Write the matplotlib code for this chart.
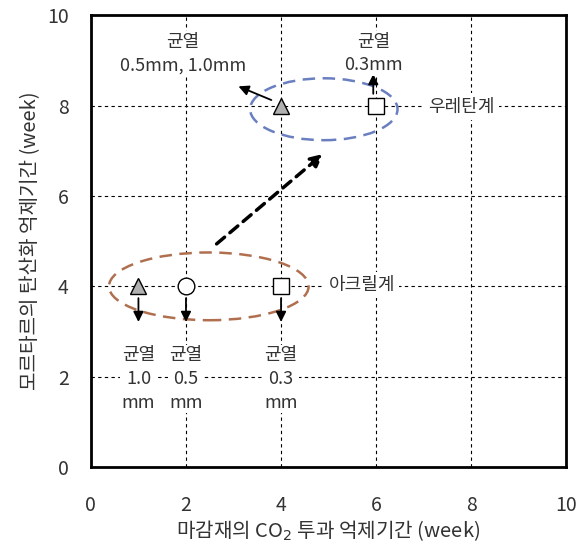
import matplotlib.pyplot as plt
from matplotlib.patches import Ellipse

plt.rcParams['font.family'] = ['Noto Sans CJK KR', 'DejaVu Sans']

# 아크릴계 (아래) / 우레탄계 (위)
acryl_x = [1, 2, 4]
acryl_y = [4, 4, 4]
acryl_marker = ['^', 'o', 's']
acryl_fill = ['#b0b0b0', 'white', 'white']
acryl_label = ['균열\n1.0\nmm', '균열\n0.5\nmm', '균열\n0.3\nmm']

ure_x = [4, 6]
ure_y = [8, 8]
ure_marker = ['^', 's']
ure_fill = ['#b0b0b0', 'white']

fig = plt.figure(figsize=(5.79, 5.45), dpi=100)
ax = fig.add_axes([0.157, 0.143, 0.821, 0.829])

ax.set_xlim(0, 10)
ax.set_ylim(0, 10)
ax.set_xticks([0, 2, 4, 6, 8, 10])
ax.set_yticks([0, 2, 4, 6, 8, 10])
ax.tick_params(length=0, labelsize=14, colors='#333333')
ax.tick_params(axis='x', pad=20)
ax.tick_params(axis='y', pad=16)
ax.grid(True, color='black', linestyle=(0, (3, 3)), linewidth=0.8)
for s in ax.spines.values():
    s.set_linewidth(2)

ax.set_xlabel('마감재의 CO$_2$ 투과 억제기간 (week)', fontsize=14.5, color='#333333', labelpad=2)
ax.set_ylabel('모르타르의 탄산화 억제기간 (week)', fontsize=14.5, color='#333333', labelpad=4)

# 타원
ax.add_patch(Ellipse((2.48, 4.0), 4.2, 1.5, fill=False, edgecolor='#b07050',
                     linestyle=(0, (5, 3)), linewidth=1.8, zorder=3))
ax.add_patch(Ellipse((4.9, 7.92), 3.1, 1.37, fill=False, edgecolor='#6a7fc0',
                     linestyle=(0, (5, 3)), linewidth=1.8, zorder=3))

# 굵은 점선 화살표
ax.annotate('', xy=(4.93, 6.97), xytext=(2.6, 4.9),
            arrowprops=dict(arrowstyle='-|>', color='black', lw=2.5,
                            linestyle=(0, (3, 2)), mutation_scale=18))

for x, y, m, c, lab in zip(acryl_x, acryl_y, acryl_marker, acryl_fill, acryl_label):
    ax.annotate('', xy=(x, 3.15), xytext=(x, y - 0.2),
                arrowprops=dict(arrowstyle='-|>', color='black', lw=1.3, mutation_scale=15),
                zorder=4)
    ax.plot(x, y, marker=m, markersize=12, markerfacecolor=c,
            markeredgecolor='black', markeredgewidth=1, zorder=5)
    ax.text(x, 1.95, lab, ha='center', va='center', fontsize=13, color='#333333',
            linespacing=1.4, zorder=6,
            bbox=dict(facecolor='white', edgecolor='none', pad=1))

for x, y, m, c in zip(ure_x, ure_y, ure_marker, ure_fill):
    ax.plot(x, y, marker=m, markersize=12, markerfacecolor=c,
            markeredgecolor='black', markeredgewidth=1, zorder=5)

ax.annotate('', xy=(3.05, 8.45), xytext=(3.85, 8.1),
            arrowprops=dict(arrowstyle='-|>', color='black', lw=1.3, mutation_scale=15),
            zorder=4)
ax.annotate('', xy=(5.94, 8.76), xytext=(5.94, 8.2),
            arrowprops=dict(arrowstyle='-|>', color='black', lw=1.3, mutation_scale=15),
            zorder=4)

ax.text(1.94, 9.15, '균열\n0.5mm, 1.0mm', ha='center', va='center', fontsize=13,
        color='#333333', linespacing=1.4, zorder=6,
        bbox=dict(facecolor='white', edgecolor='none', pad=1))
ax.text(5.94, 9.15, '균열\n0.3mm', ha='center', va='center', fontsize=13,
        color='#333333', linespacing=1.4, zorder=6,
        bbox=dict(facecolor='white', edgecolor='none', pad=1))
ax.text(7.8, 7.98, '우레탄계', ha='center', va='center', fontsize=13,
        color='#333333', zorder=6,
        bbox=dict(facecolor='white', edgecolor='none', pad=3))
ax.text(5.7, 4.03, '아크릴계', ha='center', va='center', fontsize=13,
        color='#333333', zorder=6,
        bbox=dict(facecolor='white', edgecolor='none', pad=3))

fig.savefig('out.png', dpi=100)
